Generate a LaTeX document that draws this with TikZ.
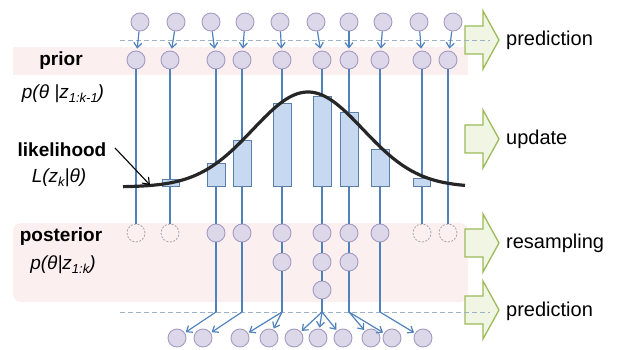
\documentclass[tikz,border=0pt]{standalone}
\usepackage{fontspec}
\setmainfont{Liberation Sans}
\usetikzlibrary{arrows.meta}
\definecolor{pfill}{HTML}{DDD7EA}
\definecolor{pdraw}{HTML}{A49CC2}
\definecolor{lblue}{HTML}{4F81BD}
\definecolor{barfill}{HTML}{C6D9F1}
\definecolor{bardraw}{HTML}{5B7FA6}
\definecolor{band}{HTML}{FCEFEF}
\definecolor{gfill}{HTML}{F0F5E4}
\definecolor{gdraw}{HTML}{9BBB59}
\definecolor{dashc}{HTML}{9DB2C6}
\newcommand\sbx[1]{\raisebox{-0.35ex}{\fontsize{13}{13}\selectfont #1}}
\begin{document}
\begin{tikzpicture}[x=1pt,y=-1pt,
  particle/.style={circle,draw=pdraw,fill=pfill,line width=0.9pt,minimum size=18pt,inner sep=0pt},
  ghost/.style={circle,draw=gray!70,line width=0.8pt,minimum size=18pt,inner sep=0pt,dash pattern=on 2pt off 1.5pt},
  link/.style={draw=lblue,line width=1.2pt},
  arr/.style={link,-{Straight Barb[length=5pt,width=8pt]},shorten >=1pt},
  sep/.style={draw=dashc,line width=1pt,dash pattern=on 5pt off 3pt},
  bar/.style={draw=bardraw,fill=barfill,line width=0.9pt},
  stage/.style={draw=gdraw,fill=gfill,line width=1.3pt,line join=miter},
  lab/.style={font=\fontsize{20}{24}\selectfont,anchor=west,inner sep=0pt},
  side/.style={font=\fontsize{19}{22}\selectfont\bfseries,inner sep=0pt},
  sidem/.style={font=\fontsize{19}{22}\selectfont\itshape,inner sep=0pt}]

\useasboundingbox (0,0) rectangle (621,350);

% bands
\fill[band] (13,47) rectangle (468,75);
\fill[band,rounded corners=8pt] (13,223) rectangle (468,302);

% stage arrows
\foreach \c in {40,139,243,310}
  \draw[stage] (465,{\c-14}) -- (483,{\c-14}) -- (483,{\c-29}) -- (499,\c) -- (483,{\c+29}) -- (483,{\c+14}) -- (465,{\c+14}) -- cycle;

% separators
\coordinate (s1a) at (120,41); \coordinate (s1b) at (490,41);
\coordinate (s2a) at (120,312); \coordinate (s2b) at (490,312);
\draw[sep] (s1a) -- (s1b);
\draw[sep] (s2a) -- (s2b);

% stage labels
\node[lab] (l1) at (506,40) {prediction};
\node[lab] (l2) at (506,139) {update};
\node[lab] (l3) at (506,243) {resampling};
\node[lab] (l4) at (506,311) {prediction};

% left labels
\node[side] (prior) at (61,61) {prior};
\node[sidem] (priorf) at (63,94) {p(θ |z\sbx{1:k-1})};
\node[side] (like) at (62,150) {likelihood};
\node[sidem] (likef) at (59,178) {L(z\sbx{k}|θ)};
\node[side] (post) at (61,237) {posterior};
\node[sidem] (postf) at (63,265) {p(θ|z\sbx{1:k})};

% top and prior particles
\foreach \i/\tx/\px in {1/140/136,2/176/170,3/211/216,4/245/242,5/280/282,6/316/322,7/349/349,8/383/380,9/419/422,10/453/448}{
  \node[particle] (t\i) at (\tx,22) {};
  \node[particle] (p\i) at (\px,60) {};
  \draw[arr,shorten >=2pt] (t\i) -- (p\i);
}

% posterior particles
\node[ghost] (q1) at (136,233) {};
\node[ghost] (q2) at (170,233) {};
\node[particle] (q3) at (216,233) {};
\node[particle] (q4) at (242,233) {};
\node[particle] (q5) at (282,233) {};
\node[particle] (q6) at (322,233) {};
\node[particle] (q7) at (349,233) {};
\node[particle] (q8) at (380,233) {};
\node[ghost] (q9) at (422,233) {};
\node[ghost] (q10) at (448,233) {};
\node[particle] (r5) at (282,262) {};
\node[particle] (r6) at (322,262) {};
\node[particle] (r7) at (349,262) {};
\node[particle] (u6) at (322,290) {};

\foreach \i in {1,...,10} \draw[link] (p\i) -- (q\i);
\draw[link] (q5) -- (r5);
\draw[link] (q6) -- (r6);
\draw[link] (r6) -- (u6);
\draw[link] (q7) -- (r7);

% bottom particles
\foreach \i/\bx in {1/177,2/203,3/240,4/269,5/294,6/318,7/343,8/371,9/392,10/423}
  \node[particle] (b\i) at (\bx,338) {};

\coordinate (j3) at (216,312);
\coordinate (j4) at (242,312);
\coordinate (j5) at (282,312);
\coordinate (j6) at (322,312);
\coordinate (j7) at (349,312);
\coordinate (j8) at (380,312);
\draw[link] (q3) -- (j3);
\draw[link] (q4) -- (j4);
\draw[link] (r5) -- (j5);
\draw[link] (u6) -- (j6);
\draw[link] (r7) -- (j7);
\draw[link] (q8) -- (j8);
\draw[arr] (j3) -- (b1);
\draw[arr] (j4) -- (b2);
\draw[arr] (j5) -- (b3);
\draw[arr] (j5) -- (b4);
\draw[arr] (j6) -- (b5);
\draw[arr] (j6) -- (b6);
\draw[arr] (j6) -- (b7);
\draw[arr] (j7) -- (b8);
\draw[arr] (j7) -- (b9);
\draw[arr] (j8) -- (b10);

% weight bars
\draw[bar] (162.5,179) rectangle (179.5,186);
\draw[bar] (207,163) rectangle (225,186);
\draw[bar] (233,140) rectangle (251,186);
\draw[bar] (273.5,103) rectangle (291,186);
\draw[bar] (313.5,96) rectangle (331.5,186);
\draw[bar] (340,112) rectangle (358,186);
\draw[bar] (371.5,149) rectangle (389.5,186);
\draw[bar] (413.5,178) rectangle (430.5,186);

% likelihood curve
\draw[line width=3.2pt,color=black!85,line join=round]
  plot[domain=123:465,samples=120] (\x,{187-95*exp(-0.5*((\x-308)/55)^2)});

% likelihood pointer
\coordinate (likeTail) at (115,148);
\coordinate (likeTip) at (150,185);
\draw[line width=1.1pt,-{Straight Barb[length=6pt,width=9pt]}] (likeTail) -- (likeTip);

\end{tikzpicture}
\end{document}
